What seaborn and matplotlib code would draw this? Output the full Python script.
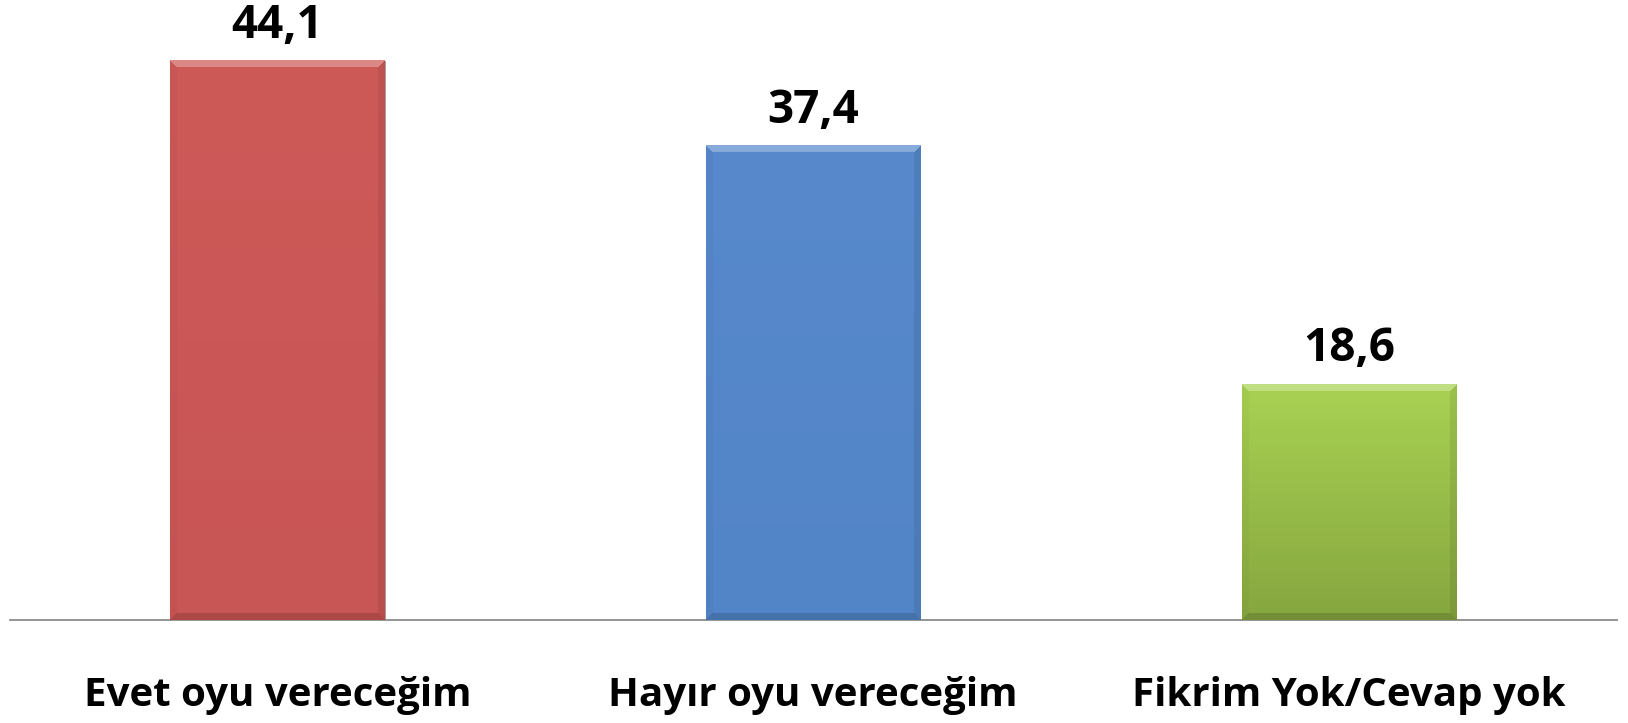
import numpy as np
import pandas as pd
import matplotlib
matplotlib.use('Agg')
import matplotlib.pyplot as plt
import matplotlib.colors as mcolors
import seaborn as sns

# chart data
categories = ['Evet oyu vereceğim', 'Hayır oyu vereceğim', 'Fikrim Yok/Cevap yok']
values = [44.1, 37.4, 18.6]
top_colors = ['#CE5A58', '#5789CC', '#A9D253']
bottom_colors = ['#C85654', '#5285C7', '#86A63F']

sns.set_theme(style='white')
plt.rcParams['font.family'] = ['Open Sans', 'DejaVu Sans']


def bevel_image(top, bottom, w_px, h_px, bevel=7):
    """RGB image of a bar with a vertical gradient and a bevelled edge"""
    h_px, w_px = int(round(h_px)), int(round(w_px))
    t = np.linspace(0, 1, h_px)[:, None, None]
    c0 = np.array(mcolors.to_rgb(top))
    c1 = np.array(mcolors.to_rgb(bottom))
    img = (c0 * (1 - t) + c1 * t) * np.ones((h_px, w_px, 3))
    yy, xx = np.mgrid[0:h_px, 0:w_px]
    d_top, d_bot = yy, h_px - 1 - yy
    d_left, d_right = xx, w_px - 1 - xx
    dists = np.stack([d_top, d_bot, d_left, d_right])
    nearest = dists.argmin(axis=0)
    inside = dists.min(axis=0) < bevel
    white, black = np.ones(3), np.zeros(3)
    shade = {0: (white, 0.28), 1: (black, 0.14), 2: (black, 0.03), 3: (black, 0.08)}
    for k, (tone, amt) in shade.items():
        m = inside & (nearest == k)
        img[m] = img[m] * (1 - amt) + tone * amt
    return np.clip(img, 0, 1)


df = pd.DataFrame({'category': categories, 'value': values})

fig = plt.figure(figsize=(16.28, 7.23), dpi=100)
ax = fig.add_axes([0.006, 0.1425, 0.987, 0.842])
sns.barplot(data=df, x='category', y='value', hue='category', palette=top_colors,
            legend=False, width=0.4, ax=ax, saturation=1)
ax.set_xlim(-0.5, 2.5)
ax.set_ylim(0, 48)

fig.canvas.draw()
for patch, c_top, c_bot, val in zip(ax.patches, top_colors, bottom_colors, values):
    x0, y0 = patch.get_x(), patch.get_y()
    w, h = patch.get_width(), patch.get_height()
    (px0, py0), (px1, py1) = ax.transData.transform([(x0, y0), (x0 + w, y0 + h)])
    img = bevel_image(c_top, c_bot, px1 - px0, py1 - py0)
    ax.imshow(img, extent=[x0, x0 + w, y0, y0 + h], aspect='auto', zorder=3,
              interpolation='bilinear')
    patch.set_edgecolor('#9a9a9a')
    patch.set_linewidth(0.6)
    ax.annotate(f'{val:.1f}'.replace('.', ','), (x0 + w / 2, y0 + h),
                xytext=(0, 12), textcoords='offset pixels', ha='center', va='bottom',
                fontsize=33, fontweight='bold', color='black')

ax.set_aspect('auto')
ax.set_xlim(-0.5, 2.5)
ax.set_ylim(0, 48)
ax.set_xlabel('')
ax.set_ylabel('')
ax.set_yticks([])
for side in ['top', 'left', 'right']:
    ax.spines[side].set_visible(False)
ax.spines['bottom'].set_color('#8c8c8c')
ax.spines['bottom'].set_linewidth(1.3)
ax.tick_params(axis='x', length=0, pad=40, labelsize=29)
for lbl in ax.get_xticklabels():
    lbl.set_fontweight('bold')
    lbl.set_color('black')

fig.savefig('out.png', dpi=100, facecolor='white')
